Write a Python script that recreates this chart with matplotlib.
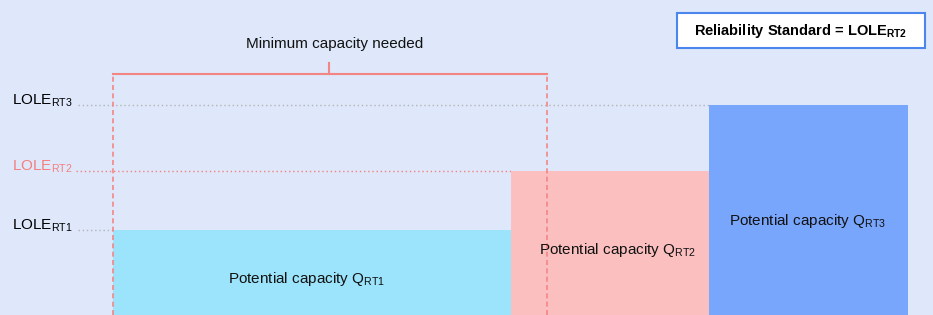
import matplotlib.pyplot as plt
from matplotlib.patches import Rectangle
from matplotlib import font_manager

names = {f.name for f in font_manager.fontManager.ttflist}
narrow = 'Liberation Sans Narrow' in names
plt.rcParams['font.family'] = ['Liberation Sans Narrow' if narrow else 'Liberation Sans', 'DejaVu Sans']
plt.rcParams['mathtext.default'] = 'regular'
fs = 13.2 if narrow else 11

# Data (chart units: x across, y = level above baseline)
tiers = ['RT1', 'RT2', 'RT3']
bar_left = [113, 511, 709]
bar_width = [398, 198, 199]
lole_level = [85, 144, 210]
bar_colors = ['#9be4fc', '#fbbfbf', '#79a6fd']
label_colors = ['#000000', '#f47f7f', '#000000']
line_colors = ['#b4b4b4', '#f47f7f', '#b4b4b4']
line_start = [78, 76, 78]
line_end = [113, 511, 709]
text_pos = [(307, 36), (618, 65), (808, 94)]

bracket_x = [113, 547]
bracket_y = 241
bracket_tick = 252

bg = '#dee8fa'
pink = '#f48585'

fig = plt.figure(figsize=(9.33, 3.15), dpi=100)
fig.patch.set_facecolor(bg)
ax = fig.add_axes([0, 0, 1, 1])
ax.set_facecolor(bg)
ax.set_xlim(0, 933)
ax.set_ylim(0, 315)
ax.axis('off')

# LOLE reference lines and labels
for i, t in enumerate(tiers):
    ax.plot([line_start[i], line_end[i]], [lole_level[i]] * 2, ls=(0, (1, 2)),
            color=line_colors[i], lw=1, zorder=1)
    ax.text(12, lole_level[i], 'LOLE$_{%s}$' % t, color=label_colors[i],
            fontsize=fs, ha='left', va='baseline')

# capacity bars
ax.bar(bar_left, lole_level, width=bar_width, align='edge', color=bar_colors,
       edgecolor='none', zorder=2)
for i, t in enumerate(tiers):
    ax.text(text_pos[i][0], text_pos[i][1], 'Potential capacity Q$_{%s}$' % t,
            fontsize=fs, ha='center', va='center', color='#111111', zorder=4)

# "minimum capacity needed" bracket
for x in bracket_x:
    ax.plot([x, x], [0, bracket_y], ls=(0, (3, 2)), color=pink, lw=1.2, zorder=3)
ax.plot(bracket_x, [bracket_y] * 2, color=pink, lw=1.5, zorder=3)
mid = (bracket_x[0] + bracket_x[1]) / 2 - 1
ax.plot([mid, mid], [bracket_y, bracket_tick], color=pink, lw=1.5, zorder=3)
ax.text(335, 271, 'Minimum capacity needed', fontsize=fs, ha='center',
        va='center', color='#111111')

# reliability standard box
ax.add_patch(Rectangle((677, 267), 248, 35, facecolor='white',
                       edgecolor='#4a86ee', lw=1.5, zorder=3))
ax.text(801, 284.5, 'Reliability Standard = LOLE$_{RT2}$', fontsize=fs * 0.96,
        fontweight='bold', ha='center', va='center', zorder=4)

fig.savefig('out.png', dpi=100, facecolor=bg)
